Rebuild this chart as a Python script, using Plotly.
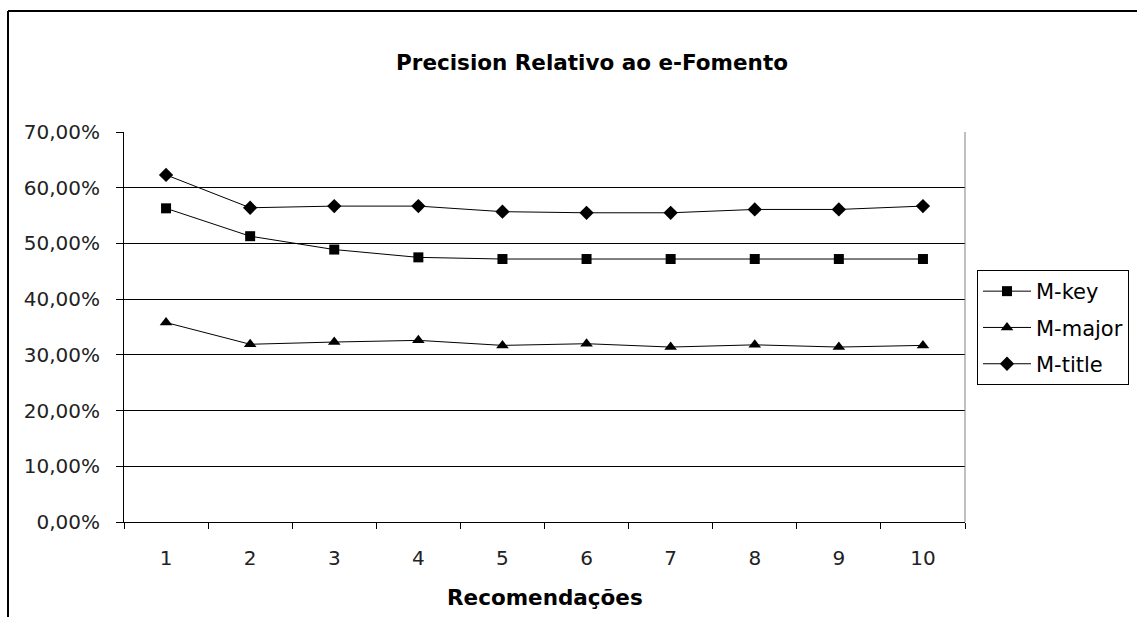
import plotly.graph_objects as go

categories = ["1", "2", "3", "4", "5", "6", "7", "8", "9", "10"]
m_key = [56.3, 51.3, 48.9, 47.5, 47.2, 47.2, 47.2, 47.2, 47.2, 47.2]
m_major = [35.8, 31.9, 32.3, 32.6, 31.7, 32.0, 31.4, 31.8, 31.4, 31.7]
m_title = [62.3, 56.4, 56.7, 56.7, 55.7, 55.5, 55.5, 56.1, 56.1, 56.7]
y_ticks = [0, 10, 20, 30, 40, 50, 60, 70]

FONT = "DejaVu Sans"

fig = go.Figure()
series = [("M-key", m_key, "square", 10), ("M-major", m_major, "triangle-up", 11),
          ("M-title", m_title, "diamond", 11)]
for name, vals, sym, sz in series:
    fig.add_trace(go.Scatter(
        x=categories, y=[v / 100 for v in vals], name=name, mode="lines+markers",
        legendgroup=name,
        line=dict(color="black", width=1),
        marker=dict(symbol=sym, size=sz, color="black"),
    ))

fig.update_layout(
    width=1137, height=617,
    margin=dict(l=124, r=172, t=132, b=95, autoexpand=False),
    paper_bgcolor="white", plot_bgcolor="white",
    separators=",.",
    font=dict(family=FONT, size=20, color="black"),
    title=dict(text="<b>Precision Relativo ao e-Fomento</b>", x=592 / 1137, xref="container",
               xanchor="center", y=1 - 62 / 617, yref="container", yanchor="middle",
               font=dict(family=FONT, size=21.5, color="black")),
    showlegend=True,
    legend=dict(x=(977 - 124) / 841, xanchor="left", y=(522 - 270) / 390, yanchor="top",
                bordercolor="black", borderwidth=1, bgcolor="white",
                font=dict(family=FONT, size=21, color="black"),
                itemwidth=48, tracegroupgap=6),
)

fig.update_xaxes(
    type="category", range=[-0.5, 9.5], tickson="boundaries",
    ticks="outside", ticklen=6, tickcolor="black", tickwidth=1,
    showline=True, linecolor="black", linewidth=1, showgrid=False,
    tickfont=dict(family=FONT, size=20, color="#222"), ticklabelstandoff=18,
)
fig.update_yaxes(
    range=[0, 0.70], tickvals=[t / 100 for t in y_ticks], tickformat=".2%",
    ticks="outside", ticklen=7, tickcolor="black", tickwidth=1,
    showline=True, linecolor="black", linewidth=1,
    showgrid=True, gridcolor="black", gridwidth=1, zeroline=False,
    tickfont=dict(family=FONT, size=20, color="#222"), ticklabelstandoff=12,
)

fig.add_annotation(text="<b>Recomendações</b>", x=0.5, xref="paper", y=(522 - 597) / 390, yref="paper",
                   xanchor="center", yanchor="middle", showarrow=False,
                   font=dict(family=FONT, size=21.5, color="black"))

# plot-area right border
fig.add_shape(type="line", xref="paper", yref="paper", x0=1, x1=1, y0=0, y1=1,
              line=dict(color="#808080", width=1))
# outer chart border (left and top visible)
bx = (8 - 124) / 841
by = (522 - 11) / 390
fig.add_shape(type="line", xref="paper", yref="paper", x0=bx, x1=bx, y0=-0.5, y1=by,
              line=dict(color="black", width=2))
fig.add_shape(type="line", xref="paper", yref="paper", x0=bx, x1=1.5, y0=by, y1=by,
              line=dict(color="black", width=2))

fig.write_html("out.html")
